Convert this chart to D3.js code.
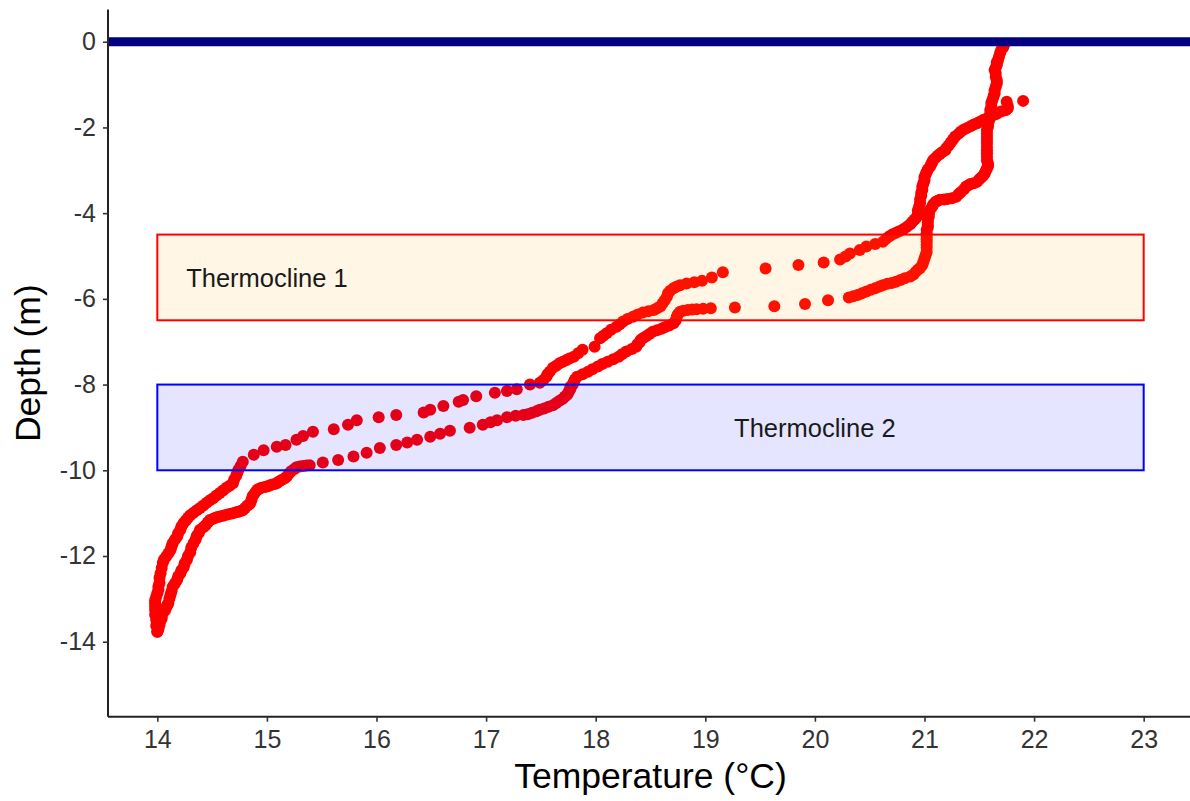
<!DOCTYPE html>
<html>
<head>
<meta charset="utf-8">
<script src="https://cdn.jsdelivr.net/npm/d3@7"></script>
<style>
  html, body { margin: 0; padding: 0; background: #fff; }
  svg { display: block; font-family: "Liberation Sans", Arial, Helvetica, sans-serif; }
</style>
</head>
<body>
<svg id="chart" width="1190" height="801"></svg>
<script>
// ---------------- data ----------------
// Cast A: [temperature °C, depth m], starts near the surface at 21.9 °C and descends along the left path
const castA = [
  [21.90,-1.38],[21.75,-1.40],[21.76,-1.50],[21.76,-1.55],[21.74,-1.60],[21.70,-1.63],[21.66,-1.68],[21.63,-1.71],[21.60,-1.75],[21.57,-1.79],
  [21.54,-1.82],[21.51,-1.86],[21.48,-1.90],[21.45,-1.93],[21.42,-1.97],[21.39,-2.01],[21.36,-2.05],[21.33,-2.10],[21.31,-2.15],[21.28,-2.21],
  [21.26,-2.28],[21.24,-2.35],[21.22,-2.42],[21.20,-2.48],[21.19,-2.53],[21.16,-2.58],[21.14,-2.62],[21.12,-2.66],[21.10,-2.71],[21.08,-2.76],
  [21.07,-2.81],[21.06,-2.86],[21.05,-2.92],[21.03,-2.98],[21.02,-3.04],[21.01,-3.10],[21.00,-3.16],[21.00,-3.23],[20.99,-3.30],[20.98,-3.38],
  [20.98,-3.46],[20.97,-3.53],[20.97,-3.60],[20.96,-3.68],[20.96,-3.76],[20.95,-3.85],[20.94,-3.93],[20.94,-4.01],[20.93,-4.09],[20.91,-4.15],
  [20.89,-4.20],[20.87,-4.26],[20.84,-4.32],[20.81,-4.37],[20.77,-4.42],[20.74,-4.46],[20.71,-4.49],[20.68,-4.54],[20.65,-4.60],[20.62,-4.67],
  [20.55,-4.72],[20.47,-4.78],[20.41,-4.86],[20.32,-4.94],[20.28,-5.01],[20.23,-5.08],[20.08,-5.15],[19.85,-5.21],[19.55,-5.29],[19.16,-5.38],
  [19.06,-5.50],[18.97,-5.58],[18.90,-5.61],[18.83,-5.64],[18.77,-5.68],[18.74,-5.71],[18.71,-5.75],[18.68,-5.81],[18.66,-5.87],[18.65,-5.95],
  [18.63,-6.03],[18.61,-6.10],[18.59,-6.18],[18.56,-6.22],[18.53,-6.26],[18.48,-6.29],[18.43,-6.32],[18.38,-6.37],[18.34,-6.42],[18.29,-6.47],
  [18.25,-6.53],[18.22,-6.59],[18.19,-6.65],[18.14,-6.72],[18.10,-6.80],[18.07,-6.86],[18.04,-6.92],[17.99,-7.12],[17.88,-7.19],[17.84,-7.27],
  [17.80,-7.35],[17.76,-7.39],[17.73,-7.43],[17.70,-7.47],[17.67,-7.50],[17.64,-7.56],[17.61,-7.61],[17.58,-7.70],[17.56,-7.76],[17.55,-7.82],
  [17.52,-7.90],[17.49,-7.96],[17.40,-8.00],[17.28,-8.11],[17.19,-8.15],[17.08,-8.19],[16.91,-8.27],[16.79,-8.36],[16.75,-8.40],[16.61,-8.50],
  [16.49,-8.59],[16.43,-8.65],[16.18,-8.71],[16.02,-8.76],[15.82,-8.83],[15.74,-8.94],[15.61,-9.04],[15.42,-9.10],[15.33,-9.20],[15.27,-9.29],
  [15.17,-9.41],[15.09,-9.45],[14.97,-9.53],[14.88,-9.64],[14.78,-9.80],[14.76,-9.90],[14.74,-9.99],[14.73,-10.06],[14.72,-10.13],[14.70,-10.22],
  [14.69,-10.30],[14.66,-10.36],[14.63,-10.41],[14.60,-10.47],[14.57,-10.53],[14.54,-10.59],[14.51,-10.65],[14.48,-10.70],[14.45,-10.76],[14.42,-10.82],
  [14.39,-10.88],[14.36,-10.93],[14.33,-10.99],[14.30,-11.05],[14.28,-11.11],[14.26,-11.17],[14.24,-11.23],[14.22,-11.31],[14.21,-11.39],[14.19,-11.47],
  [14.18,-11.55],[14.16,-11.62],[14.14,-11.70],[14.13,-11.78],[14.12,-11.86],[14.10,-11.94],[14.08,-12.02],[14.06,-12.09],[14.05,-12.16],[14.04,-12.28],
  [14.03,-12.40],[14.02,-12.51],[14.02,-12.63],[14.01,-12.71],[14.01,-12.79],[14.00,-12.87],[13.99,-12.95],[13.98,-13.03],[13.98,-13.10],[13.98,-13.18],
  [13.98,-13.26],[13.98,-13.37],[13.99,-13.49],[13.99,-13.63],[14.00,-13.77]
];

// Cast B: [temperature °C, depth m], from the bottom back up along the right path to the surface
const castB = [
  [14.00,-13.77],[14.01,-13.71],[14.01,-13.66],[14.02,-13.61],[14.02,-13.56],[14.03,-13.50],[14.04,-13.45],[14.04,-13.39],[14.05,-13.33],[14.07,-13.27],
  [14.08,-13.21],[14.09,-13.15],[14.10,-13.10],[14.11,-13.00],[14.12,-12.91],[14.13,-12.82],[14.14,-12.72],[14.16,-12.64],[14.18,-12.56],[14.19,-12.48],
  [14.21,-12.40],[14.22,-12.33],[14.24,-12.26],[14.25,-12.17],[14.27,-12.09],[14.28,-12.00],[14.30,-11.91],[14.31,-11.80],[14.33,-11.70],[14.35,-11.61],
  [14.36,-11.53],[14.38,-11.46],[14.39,-11.39],[14.42,-11.33],[14.44,-11.28],[14.46,-11.22],[14.48,-11.16],[14.51,-11.13],[14.53,-11.11],[14.55,-11.09],
  [14.57,-11.08],[14.60,-11.06],[14.63,-11.04],[14.66,-11.02],[14.69,-11.00],[14.72,-10.98],[14.74,-10.97],[14.76,-10.95],[14.78,-10.93],[14.80,-10.88],
  [14.82,-10.83],[14.84,-10.79],[14.85,-10.76],[14.86,-10.68],[14.87,-10.60],[14.89,-10.53],[14.91,-10.46],[14.93,-10.43],[14.95,-10.41],[14.98,-10.39],
  [15.00,-10.38],[15.02,-10.36],[15.04,-10.34],[15.07,-10.32],[15.09,-10.30],[15.11,-10.26],[15.13,-10.23],[15.16,-10.19],[15.18,-10.15],[15.20,-10.08],
  [15.22,-10.02],[15.25,-9.97],[15.27,-9.93],[15.30,-9.91],[15.33,-9.90],[15.36,-9.89],[15.39,-9.88],[15.51,-9.82],[15.65,-9.76],[15.79,-9.68],
  [15.91,-9.59],[16.03,-9.48],[16.18,-9.41],[16.28,-9.35],[16.37,-9.29],[16.49,-9.22],[16.58,-9.15],[16.67,-9.08],[16.85,-9.01],[16.97,-8.94],
  [17.04,-8.88],[17.10,-8.83],[17.19,-8.76],[17.27,-8.73],[17.34,-8.71],[17.38,-8.69],[17.42,-8.66],[17.46,-8.62],[17.49,-8.59],[17.53,-8.56],
  [17.57,-8.52],[17.61,-8.48],[17.64,-8.43],[17.67,-8.38],[17.70,-8.33],[17.72,-8.28],[17.74,-8.24],[17.75,-8.19],[17.76,-8.14],[17.77,-8.10],
  [17.77,-8.05],[17.79,-8.00],[17.80,-7.94],[17.81,-7.88],[17.83,-7.82],[17.88,-7.76],[17.93,-7.70],[17.97,-7.64],[18.02,-7.58],[18.06,-7.52],
  [18.11,-7.47],[18.16,-7.41],[18.21,-7.35],[18.24,-7.29],[18.28,-7.23],[18.33,-7.17],[18.37,-7.12],[18.38,-7.06],[18.40,-7.01],[18.41,-6.96],
  [18.43,-6.92],[18.46,-6.87],[18.49,-6.82],[18.52,-6.77],[18.56,-6.73],[18.60,-6.70],[18.63,-6.66],[18.67,-6.62],[18.71,-6.57],[18.73,-6.50],
  [18.74,-6.42],[18.75,-6.36],[18.77,-6.30],[18.80,-6.28],[18.84,-6.26],[18.88,-6.25],[18.92,-6.24],[18.98,-6.23],[19.05,-6.22],[19.27,-6.20],
  [19.63,-6.17],[19.91,-6.12],[20.12,-6.03],[20.31,-5.97],[20.35,-5.94],[20.39,-5.91],[20.43,-5.87],[20.47,-5.83],[20.51,-5.79],[20.55,-5.75],
  [20.59,-5.71],[20.62,-5.68],[20.66,-5.65],[20.70,-5.63],[20.74,-5.60],[20.78,-5.56],[20.82,-5.52],[20.87,-5.48],[20.90,-5.43],[20.92,-5.37],
  [20.94,-5.32],[20.96,-5.28],[20.98,-5.21],[20.99,-5.14],[21.00,-5.06],[21.01,-4.98],[21.02,-4.90],[21.02,-4.81],[21.02,-4.74],[21.02,-4.67],
  [21.02,-4.61],[21.02,-4.55],[21.02,-4.47],[21.02,-4.39],[21.03,-4.33],[21.03,-4.28],[21.03,-4.22],[21.03,-4.16],[21.04,-4.08],[21.04,-4.00],
  [21.05,-3.92],[21.07,-3.85],[21.08,-3.79],[21.10,-3.74],[21.12,-3.71],[21.14,-3.69],[21.18,-3.68],[21.21,-3.67],[21.25,-3.65],[21.29,-3.62],
  [21.31,-3.56],[21.33,-3.51],[21.36,-3.44],[21.38,-3.38],[21.40,-3.35],[21.42,-3.32],[21.45,-3.30],[21.48,-3.27],[21.50,-3.21],[21.52,-3.16],
  [21.54,-3.11],[21.55,-3.07],[21.56,-3.01],[21.57,-2.95],[21.58,-2.90],[21.58,-2.84],[21.57,-2.77],[21.57,-2.69],[21.57,-2.61],[21.57,-2.53],
  [21.57,-2.45],[21.57,-2.36],[21.57,-2.29],[21.57,-2.22],[21.57,-2.14],[21.57,-2.06],[21.58,-1.98],[21.58,-1.90],[21.59,-1.83],[21.59,-1.76],
  [21.60,-1.68],[21.60,-1.59],[21.61,-1.51],[21.61,-1.43],[21.62,-1.36],[21.63,-1.28],[21.64,-1.20],[21.64,-1.13],[21.65,-1.05],[21.66,-0.97],
  [21.66,-0.90],[21.65,-0.82],[21.65,-0.74],[21.64,-0.66],[21.65,-0.60],[21.66,-0.54],[21.66,-0.48],[21.67,-0.43],[21.68,-0.35],[21.69,-0.26],
  [21.70,-0.19],[21.72,-0.12],[21.73,-0.05]
];

// Thermocline bands
const bandNames = ["Thermocline 1", "Thermocline 2"];
const bandXMin = [14, 14];
const bandXMax = [23, 23];
const bandTop = [-4.5, -8];
const bandBottom = [-6.5, -10];
const bandLabelX = [15, 20];
const bandLabelY = [-5.5, -9];

// Surface reference line
const surfaceDepth = 0;

// Axes
const xTicks = [14, 15, 16, 17, 18, 19, 20, 21, 22, 23];
const yTicks = [0, -2, -4, -6, -8, -10, -12, -14];
const xDomain = [13.55, 23.45];
const yDomain = [-15.75, 0.75];
const xTitle = "Temperature (°C)";
const yTitle = "Depth (m)";

// ---------------- styles ----------------
const bandStroke = ["#FF0000", "#0000FF"];
const bandFill = ["#FFA500", "#0000FF"];
const plotLeft = 108, plotRight = 1193, plotTop = 9.6, plotBottom = 716.7;

// ---------------- drawing ----------------
const svg = d3.select("#chart");
const x = d3.scaleLinear().domain(xDomain).range([plotLeft, plotRight]);
const y = d3.scaleLinear().domain(yDomain).range([plotBottom, plotTop]);

const points = castA.concat(castB);

svg.append("g").selectAll("circle").data(points).join("circle")
  .attr("cx", p => x(p[0])).attr("cy", p => y(p[1])).attr("r", 6)
  .attr("fill", "#FF0000");

const bands = bandNames.map((n, i) => ({n, i}));
svg.append("g").selectAll("rect").data(bands).join("rect")
  .attr("x", b => x(bandXMin[b.i]))
  .attr("width", b => x(bandXMax[b.i]) - x(bandXMin[b.i]))
  .attr("y", b => y(bandTop[b.i]))
  .attr("height", b => y(bandBottom[b.i]) - y(bandTop[b.i]))
  .attr("fill", b => bandFill[b.i]).attr("fill-opacity", 0.1)
  .attr("stroke", b => bandStroke[b.i]).attr("stroke-width", 2);

svg.append("g").selectAll("text").data(bands).join("text")
  .attr("x", b => x(bandLabelX[b.i]))
  .attr("y", b => y(bandLabelY[b.i]))
  .attr("dy", "0.37em")
  .attr("text-anchor", "middle")
  .attr("font-size", 25.5)
  .attr("fill", "#1a1a1a")
  .text(b => b.n);

svg.append("line")
  .attr("x1", plotLeft).attr("x2", plotRight)
  .attr("y1", y(surfaceDepth)).attr("y2", y(surfaceDepth))
  .attr("stroke", "#000080").attr("stroke-width", 9);

// axes
const xAxis = d3.axisBottom(x).tickValues(xTicks).tickFormat(d3.format("d")).tickSize(5).tickPadding(9);
const yAxis = d3.axisLeft(y).tickValues(yTicks).tickFormat(d => d === 0 ? "0" : "-" + Math.abs(d)).tickSize(5).tickPadding(7);

const gx = svg.append("g").attr("transform", `translate(0,${plotBottom})`).call(xAxis);
const gy = svg.append("g").attr("transform", `translate(${plotLeft},0)`).call(yAxis);
[gx, gy].forEach(g => {
  g.select(".domain").attr("stroke", "#222").attr("stroke-width", 2);
  g.selectAll(".tick line").attr("stroke", "#333").attr("stroke-width", 1.6);
  g.selectAll(".tick text").attr("fill", "#333").attr("font-size", 25)
    .attr("font-family", "'Liberation Sans', Arial, sans-serif");
});
gx.select(".domain").attr("d", `M${plotLeft},0H${plotRight}`);
gy.select(".domain").attr("d", `M0,${plotBottom}V${plotTop}`);

svg.append("text")
  .attr("x", (plotLeft + plotRight) / 2).attr("y", 788)
  .attr("text-anchor", "middle").attr("font-size", 35.5).attr("fill", "#000")
  .text(xTitle);

svg.append("text")
  .attr("transform", `translate(40,${(plotTop + plotBottom) / 2}) rotate(-90)`)
  .attr("text-anchor", "middle").attr("font-size", 35.5).attr("fill", "#000")
  .text(yTitle);
</script>
</body>
</html>
